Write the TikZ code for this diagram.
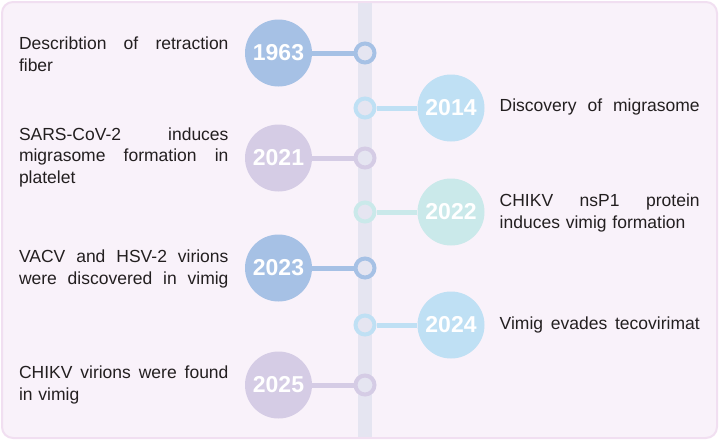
\documentclass[tikz,border=0pt]{standalone}
\usepackage{fontspec}
\setmainfont{Liberation Sans}
\definecolor{bgfill}{HTML}{F9F2FA}
\definecolor{bgline}{HTML}{F1DFF1}
\definecolor{barc}{HTML}{E5E5F1}
\definecolor{cblue}{HTML}{A6C1E5}
\definecolor{csky}{HTML}{BFE0F4}
\definecolor{clav}{HTML}{D5CCE5}
\definecolor{cteal}{HTML}{CAE9EA}
\definecolor{txt}{HTML}{231F20}
\newcommand{\jl}[1]{\makebox[209.5pt][s]{#1}}
\newcommand{\jr}[1]{\makebox[200pt][s]{#1}}
\tikzset{
  year/.style={circle, fill=#1, minimum size=67pt, inner sep=0pt, text=white,
    font=\fontsize{23}{23}\selectfont\bfseries},
  ring/.style={circle, draw=#1, line width=4pt, fill=barc, minimum size=19pt, inner sep=0pt},
  link/.style={draw=#1, line width=5pt},
  ltext/.style={anchor=west, text width=209.5pt, align=left, inner sep=0pt, text=txt,
    font=\fontsize{17.5}{21.5}\selectfont},
  rtext/.style={anchor=west, text width=200pt, align=left, inner sep=0pt, text=txt,
    font=\fontsize{17.5}{21.5}\selectfont}
}
\begin{document}
\begin{tikzpicture}[x=1pt,y=-1pt]
\useasboundingbox (0,0) rectangle (719,440);
\draw[fill=bgfill, draw=bgline, line width=2pt, rounded corners=11pt] (2,2) rectangle (717,438);
\fill[barc] (358,3) rectangle (372,437);

% year circles
\node[year=cblue] (y1963) at (278.5,53) {1963};
\node[year=csky]  (y2014) at (451,108) {2014};
\node[year=clav]  (y2021) at (278.5,158) {2021};
\node[year=cteal] (y2022) at (451,212) {2022};
\node[year=cblue] (y2023) at (278.5,268) {2023};
\node[year=csky]  (y2024) at (451,325) {2024};
\node[year=clav]  (y2025) at (278.5,385) {2025};

% rings
\node[ring=cblue] (r1963) at (365,53) {};
\node[ring=csky]  (r2014) at (365,108) {};
\node[ring=clav]  (r2021) at (365,158) {};
\node[ring=cteal] (r2022) at (365,212) {};
\node[ring=cblue] (r2023) at (365,268) {};
\node[ring=csky]  (r2024) at (365,325) {};
\node[ring=clav]  (r2025) at (365,385) {};

% links
\draw[link=cblue] (y1963) -- (r1963);
\draw[link=csky]  (r2014) -- (y2014);
\draw[link=clav]  (y2021) -- (r2021);
\draw[link=cteal] (r2022) -- (y2022);
\draw[link=cblue] (y2023) -- (r2023);
\draw[link=csky]  (r2024) -- (y2024);
\draw[link=clav]  (y2025) -- (r2025);

% texts
\node[ltext] (t1963) at (18.8,54) {\jl{Describtion\hfill of\hfill retraction}\\fiber};
\node[rtext] (t2014) at (499.5,107) {\jr{Discovery\hfill of\hfill migrasome}};
\node[ltext] (t2021) at (18.8,157) {\jl{SARS-CoV-2\hfill induces}\\\jl{migrasome\hfill formation\hfill in}\\platelet};
\node[rtext] (t2022) at (499.5,213) {\jr{CHIKV\hfill nsP1\hfill protein}\\induces vimig formation};
\node[ltext] (t2023) at (18.8,269) {\jl{VACV\hfill and\hfill HSV-2\hfill virions}\\\jl{were\hfill discovered\hfill in\hfill vimig}};
\node[rtext] (t2024) at (499.5,325) {\jr{Vimig\hfill evades\hfill tecovirimat}};
\node[ltext] (t2025) at (18.8,385) {\jl{CHIKV\hfill virions\hfill were\hfill found}\\in vimig};
\end{tikzpicture}
\end{document}
